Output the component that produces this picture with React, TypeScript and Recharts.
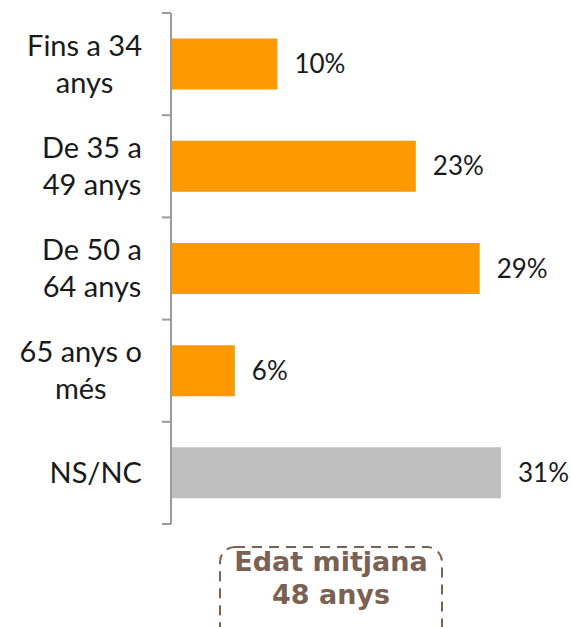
import React from "react";
import { Bar, BarChart, Cell, LabelList, XAxis, YAxis } from "recharts";

const CATEGORIES = [
  "Fins a 34 anys",
  "De 35 a 49 anys",
  "De 50 a 64 anys",
  "65 anys o més",
  "NS/NC",
];
const TICK_LINES = [
  ["Fins a 34", "anys"],
  ["De 35 a", "49 anys"],
  ["De 50 a", "64 anys"],
  ["65 anys o", "més"],
  ["NS/NC"],
];
const VALUES = [10, 23, 29, 6, 31];
const BAR_COLORS = ["#FF9900", "#FF9900", "#FF9900", "#FF9900", "#BFBFBF"];
const AVERAGE_LINES = ["Edat mitjana", "48 anys"];

const data = CATEGORIES.map((name, i) => ({ name, value: VALUES[i] }));

const TEXT_COLOR = "#1a1a1a";
const AXIS_COLOR = "#9a9a9a";
const BROWN = "#7a6151";
const FONT = "Lato";
const TICK_SIZE = 29;
const LINE_GAP = 37;

let ctx: CanvasRenderingContext2D | null = null;
const measure = (text: string, size: number) => {
  if (!ctx) ctx = document.createElement("canvas").getContext("2d");
  if (!ctx) return text.length * size * 0.5;
  ctx.font = `${size}px ${FONT}`;
  return ctx.measureText(text).width;
};

const CategoryTick = (props: any) => {
  const { x, y, payload } = props;
  const idx = CATEGORIES.indexOf(payload.value);
  const lines = TICK_LINES[idx] || [payload.value];
  const widest = Math.max(...lines.map((l) => measure(l, TICK_SIZE)));
  const cx = x - widest / 2;
  const half = payload.offset ?? 51;
  const axisX = x + 29;
  return (
    <g>
      {lines.map((line, i) => (
        <text
          key={i}
          x={cx}
          y={y + (i - (lines.length - 1) / 2) * LINE_GAP + 10}
          textAnchor="middle"
          fontSize={TICK_SIZE}
          fontFamily={FONT}
          fill={TEXT_COLOR}
        >
          {line}
        </text>
      ))}
      <line x1={axisX - 9} x2={axisX} y1={y - half} y2={y - half} stroke={AXIS_COLOR} strokeWidth={2} />
      {idx === CATEGORIES.length - 1 && (
        <line x1={axisX - 9} x2={axisX} y1={y + half} y2={y + half} stroke={AXIS_COLOR} strokeWidth={2} />
      )}
    </g>
  );
};

export default function App() {
  return (
    <div
      style={{
        position: "absolute",
        left: 0,
        top: 0,
        width: 572,
        height: 627,
        overflow: "hidden",
        background: "#fff",
        fontFamily: FONT,
      }}
    >
      <BarChart
        width={572}
        height={540}
        data={data}
        layout="vertical"
        margin={{ top: 13, right: 71, bottom: 16, left: 0 }}
        barCategoryGap="25%"
      >
        <XAxis type="number" hide domain={[0, 31]} />
        <YAxis
          type="category"
          dataKey="name"
          width={171}
          tickLine={false}
          tickSize={0}
          tickMargin={29}
          axisLine={{ stroke: AXIS_COLOR, strokeWidth: 2 }}
          tick={<CategoryTick />}
          interval={0}
        />
        <Bar dataKey="value" isAnimationActive={false}>
          {data.map((d, i) => (
            <Cell key={d.name} fill={BAR_COLORS[i]} />
          ))}
          <LabelList
            dataKey="value"
            position="right"
            offset={17}
            formatter={(v: any) => `${v}%`}
            fill={TEXT_COLOR}
            fontSize={26}
            fontFamily={FONT}
          />
        </Bar>
      </BarChart>
      <svg
        width={572}
        height={87}
        style={{ position: "absolute", left: 0, top: 540 }}
      >
        <rect
          x={220}
          y={7}
          width={222}
          height={110}
          rx={15}
          fill="none"
          stroke={BROWN}
          strokeWidth={2}
          strokeDasharray="10 7"
        />
        {AVERAGE_LINES.map((line, i) => (
          <text
            key={i}
            x={331}
            y={31 + i * 33}
            textAnchor="middle"
            fontSize={27}
            fontWeight="bold"
            fontFamily="DejaVu Sans"
            fill={BROWN}
          >
            {line}
          </text>
        ))}
      </svg>
    </div>
  );
}
